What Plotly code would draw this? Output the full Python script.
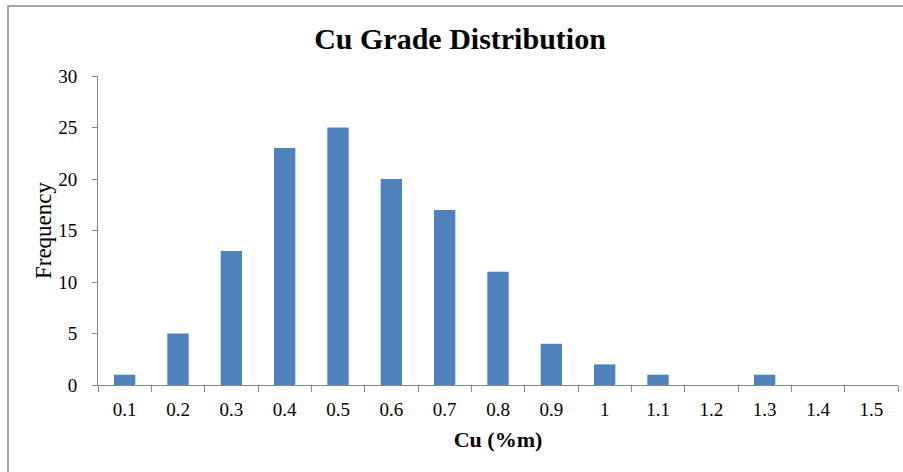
import plotly.graph_objects as go

# Cu grade bins (%m) and sample counts per bin
grade_bins = ["0.1", "0.2", "0.3", "0.4", "0.5", "0.6", "0.7", "0.8",
              "0.9", "1", "1.1", "1.2", "1.3", "1.4", "1.5"]
frequency = [1, 5, 13, 23, 25, 20, 17, 11, 4, 2, 1, 0, 1, 0, 0]
y_ticks = [0, 5, 10, 15, 20, 25, 30]

SERIF = "Liberation Serif, Times New Roman, serif"
AXIS_GREY = "#868686"

fig = go.Figure(
    go.Bar(
        x=grade_bins,
        y=frequency,
        marker=dict(color="#4F81BD", line=dict(width=0)),
        width=0.4,
    )
)

fig.update_layout(
    width=903,
    height=472,
    margin=dict(l=98, r=5, t=76, b=87),
    paper_bgcolor="white",
    plot_bgcolor="white",
    showlegend=False,
    font=dict(family=SERIF, color="black", size=19),
    title=dict(
        text="<b>Cu Grade Distribution</b>",
        font=dict(family=SERIF, size=30, color="black"),
        x=460 / 903,
        xanchor="center",
        y=1 - 38 / 472,
        yanchor="middle",
    ),
    bargap=0.6,
)

fig.update_xaxes(
    type="category",
    showline=True,
    linecolor=AXIS_GREY,
    linewidth=1,
    ticks="outside",
    tickson="boundaries",
    ticklen=6,
    tickcolor=AXIS_GREY,
    showgrid=False,
    ticklabelstandoff=7,
    tickfont=dict(family=SERIF, size=19, color="black"),
    title=dict(text="<b>Cu (%m)</b>", font=dict(family=SERIF, size=22, color="black"), standoff=12),
)

fig.update_yaxes(
    range=[0, 30],
    tickvals=y_ticks,
    showline=True,
    linecolor=AXIS_GREY,
    linewidth=1,
    ticks="outside",
    ticklen=5,
    tickcolor=AXIS_GREY,
    showgrid=False,
    zeroline=False,
    ticklabelstandoff=11,
    tickfont=dict(family=SERIF, size=19, color="black"),
    title=dict(text="Frequency", font=dict(family=SERIF, size=23, color="black"), standoff=0),
)

# chart frame (extends past the right and bottom edges of the page)
fig.add_shape(
    type="rect", xref="paper", yref="paper",
    x0=-90 / 800, x1=1.2, y0=-0.5, y1=1 + 70 / 309,
    line=dict(color="#8C8C8C", width=1.5),
    fillcolor="rgba(0,0,0,0)",
    layer="below",
)

fig.write_html("out.html")
